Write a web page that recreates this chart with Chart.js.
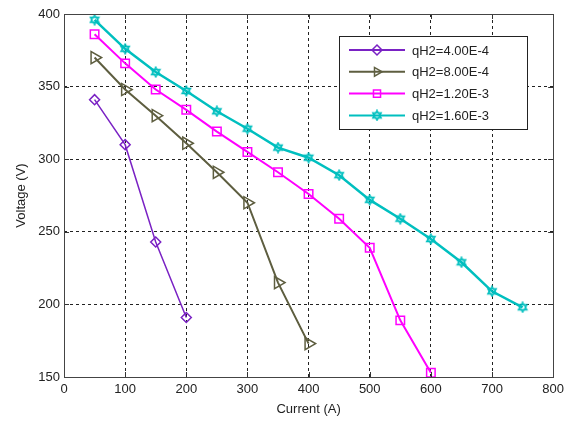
<!DOCTYPE html>
<html>
<head>
<meta charset="utf-8">
<script src="https://cdn.jsdelivr.net/npm/chart.js@4/dist/chart.umd.min.js"></script>
<style>
  html, body { margin: 0; padding: 0; background: #fff; }
  #wrap { width: 569px; height: 422px; }
</style>
</head>
<body>
<div id="wrap"><canvas id="fc"></canvas></div>
<script>
const seriesLabels = ['qH2=4.00E-4', 'qH2=8.00E-4', 'qH2=1.20E-3', 'qH2=1.60E-3'];

const current1 = [50, 100, 150, 200];
const voltage1 = [341, 310, 243, 191];

const current2 = [50, 100, 150, 200, 250, 300, 350, 400];
const voltage2 = [370, 348, 330, 311, 291, 270, 215, 173];

const current3 = [50, 100, 150, 200, 250, 300, 350, 400, 450, 500, 550, 600];
const voltage3 = [386, 366, 348, 334, 319, 305, 291, 276, 259, 239, 189, 153];

const current4 = [50, 100, 150, 200, 250, 300, 350, 400, 450, 500, 550, 600, 650, 700, 750];
const voltage4 = [396, 376, 360, 347, 333, 321, 308, 301, 289, 272, 259, 245, 229, 209, 198];

const xTicks = [0, 100, 200, 300, 400, 500, 600, 700, 800];
const yTicks = [150, 200, 250, 300, 350, 400];

const colors = ['#7a22c4', '#5e5e40', '#ff00ff', '#00bfbf'];

// MATLAB-like hexagram marker
function hexagram(color) {
  const c = document.createElement('canvas');
  c.width = 12; c.height = 12;
  const g = c.getContext('2d');
  g.strokeStyle = color;
  g.lineWidth = 1.3;
  const r = 5, cx = 6, cy = 6;
  for (let k = 0; k < 2; k++) {
    g.beginPath();
    for (let i = 0; i < 3; i++) {
      const a = -Math.PI / 2 + k * Math.PI + i * 2 * Math.PI / 3;
      const px = cx + r * Math.cos(a), py = cy + r * Math.sin(a);
      if (i === 0) g.moveTo(px, py); else g.lineTo(px, py);
    }
    g.closePath();
    g.stroke();
  }
  return c;
}
const starImg = hexagram(colors[3]);

const toPts = (xs, ys) => xs.map((x, i) => ({ x: x, y: ys[i] }));

const markerDefs = [
  { pointStyle: 'rectRot', radius: 5, rotation: 0, width: 1.5 },
  { pointStyle: 'triangle', radius: 7, rotation: 90, width: 2 },
  { pointStyle: 'rect', radius: 6, rotation: 0, width: 2 },
  { pointStyle: starImg, radius: 6, rotation: 0, width: 2.5 }
];

const allData = [
  toPts(current1, voltage1),
  toPts(current2, voltage2),
  toPts(current3, voltage3),
  toPts(current4, voltage4)
];

const datasets = allData.map((d, i) => ({
  label: seriesLabels[i],
  data: d,
  borderColor: colors[i],
  backgroundColor: 'rgba(0,0,0,0)',
  borderWidth: markerDefs[i].width,
  pointStyle: markerDefs[i].pointStyle,
  pointRadius: markerDefs[i].radius,
  pointRotation: markerDefs[i].rotation,
  pointBorderWidth: 1.5,
  pointBorderColor: colors[i],
  pointBackgroundColor: 'rgba(0,0,0,0)',
  tension: 0,
  fill: false
}));

const FONT = 'Liberation Sans, Arial, sans-serif';

const boxPlugin = {
  id: 'boxPlugin',
  afterDatasetsDraw(chart) {
    const ctx = chart.ctx;
    const a = chart.chartArea;
    const xs = chart.scales.x, ys = chart.scales.y;
    ctx.save();
    // inward tick marks on all sides
    ctx.strokeStyle = '#333';
    ctx.lineWidth = 1;
    xTicks.forEach(v => {
      const px = Math.round(xs.getPixelForValue(v)) + 0.5;
      ctx.beginPath();
      ctx.moveTo(px, a.bottom); ctx.lineTo(px, a.bottom - 5);
      ctx.moveTo(px, a.top); ctx.lineTo(px, a.top + 5);
      ctx.stroke();
    });
    yTicks.forEach(v => {
      const py = Math.round(ys.getPixelForValue(v)) + 0.5;
      ctx.beginPath();
      ctx.moveTo(a.left, py); ctx.lineTo(a.left + 5, py);
      ctx.moveTo(a.right, py); ctx.lineTo(a.right - 5, py);
      ctx.stroke();
    });
    ctx.strokeStyle = '#444';
    ctx.strokeRect(Math.round(a.left) + 0.5, Math.round(a.top) + 0.5,
                   Math.round(a.right - a.left), Math.round(a.bottom - a.top));

    // legend box
    const lx = 339, ly = 36, lw = 188, lh = 93;
    ctx.fillStyle = '#fff';
    ctx.fillRect(lx, ly, lw, lh);
    ctx.strokeStyle = '#222';
    ctx.strokeRect(lx + 0.5, ly + 0.5, lw, lh);
    ctx.font = '13px ' + FONT;
    ctx.textBaseline = 'middle';
    chart.data.datasets.forEach((ds, i) => {
      const y = ly + 14 + i * 21.8;
      ctx.strokeStyle = ds.borderColor;
      ctx.lineWidth = 2;
      ctx.beginPath();
      ctx.moveTo(349, y); ctx.lineTo(405, y);
      ctx.stroke();
      ctx.fillStyle = 'rgba(0,0,0,0)';
      ctx.lineWidth = 1.5;
      Chart.helpers.drawPoint(ctx, {
        pointStyle: ds.pointStyle,
        rotation: ds.pointRotation,
        radius: Math.min(ds.pointRadius, 5),
        borderWidth: 1.5
      }, 377, y);
      ctx.fillStyle = '#222';
      ctx.fillText(ds.label, 412, y + 1);
    });
    ctx.restore();
  }
};

new Chart(document.getElementById('fc'), {
  type: 'line',
  data: { datasets: datasets },
  options: {
    responsive: true,
    maintainAspectRatio: false,
    animation: false,
    layout: { padding: { top: 14, right: 13, left: 0, bottom: 0 } },
    plugins: {
      legend: { display: false },
      tooltip: { enabled: false }
    },
    scales: {
      x: {
        type: 'linear',
        min: 0, max: 800,
        afterBuildTicks: s => { s.ticks = xTicks.map(v => ({ value: v })); },
        afterFit: s => { s.height = 45; },
        border: { display: false, dash: [3, 3] },
        grid: {
          color: '#222',
          lineWidth: 1,
          drawTicks: false
        },
        ticks: { color: '#222', font: { family: FONT, size: 13 }, padding: 5, maxRotation: 0 },
        title: { display: true, text: 'Current (A)', color: '#222', font: { family: FONT, size: 13 }, padding: { top: 0, bottom: 5 } }
      },
      y: {
        min: 150, max: 400,
        afterBuildTicks: s => { s.ticks = yTicks.map(v => ({ value: v })); },
        afterFit: s => { s.width = 64; },
        border: { display: false, dash: [3, 3] },
        grid: {
          color: '#222',
          lineWidth: 1,
          drawTicks: false
        },
        ticks: { color: '#222', font: { family: FONT, size: 13 }, padding: 4 },
        title: { display: true, text: 'Voltage (V)', color: '#222', font: { family: FONT, size: 13 }, padding: { top: 14, bottom: 0 } }
      }
    }
  },
  plugins: [boxPlugin]
});
</script>
</body>
</html>
